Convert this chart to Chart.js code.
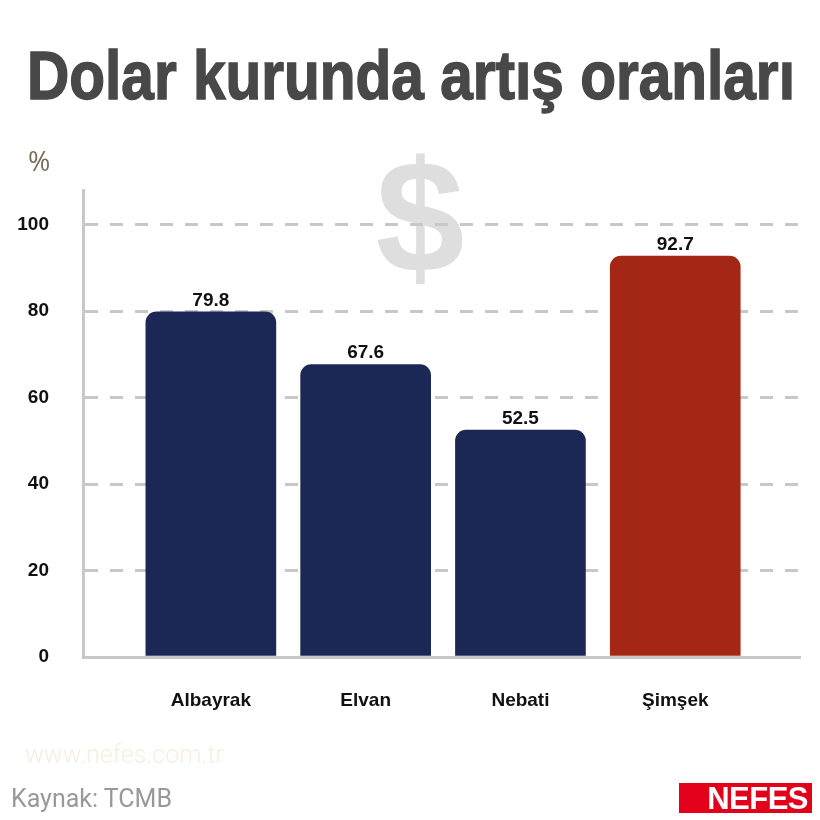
<!DOCTYPE html>
<html>
<head>
<meta charset="utf-8">
<script src="https://cdn.jsdelivr.net/npm/chart.js@4.4.1/dist/chart.umd.min.js"></script>
<style>
  html, body { margin: 0; padding: 0; background: #fff; }
  #wrap { position: relative; width: 820px; height: 820px; overflow: hidden; }
  #chart { position: absolute; left: 0; top: 0; }
  .title { position: absolute; left: 27px; top: 36px; font-family: "Liberation Sans", sans-serif; font-weight: bold; font-size: 69px; line-height: 80px; color: #484848; -webkit-text-stroke: 1.5px #484848; white-space: nowrap; transform-origin: 0 0; }
  .unit { position: absolute; left: 28px; top: 142px; font-family: "Open Sans", sans-serif; font-size: 27px; color: #7a6a58; }
  .web { position: absolute; left: 25px; top: 740px; font-family: "Roboto", sans-serif; font-weight: 300; font-size: 25px; color: #f4efdf; }
  .src { position: absolute; left: 11px; top: 784px; font-family: "Roboto", sans-serif; font-size: 25px; color: #999; }
  .logo { position: absolute; left: 679px; top: 783px; width: 133px; height: 30px; background: #e3001b; color: #fff; font-family: "Liberation Sans", sans-serif; font-weight: bold; font-size: 31px; line-height: 31px; text-align: right; padding-right: 4px; box-sizing: border-box; letter-spacing: -0.5px; }
</style>
</head>
<body>
<div id="wrap">
  <canvas id="chart" width="820" height="820"></canvas>
  <div class="title" id="title">Dolar kurunda artış oranları</div>
  <div class="unit">%</div>
  <div class="web">www.nefes.com.tr</div>
  <div class="src">Kaynak: TCMB</div>
  <div class="logo">NEFES</div>
</div>
<script>
const categories = ['Albayrak', 'Elvan', 'Nebati', 'Şimşek'];
const rates = [79.8, 67.6, 52.5, 92.7];
const barColors = ['#1b2754', '#1b2754', '#1b2754', '#a42615'];
const yTicks = [0, 20, 40, 60, 80, 100];

const labelFont = '"Liberation Sans", sans-serif';

// squeeze the title to the condensed width of the original
const titleEl = document.getElementById('title');
titleEl.style.transform = 'scaleX(' + (768 / titleEl.offsetWidth) + ')';

// big faded dollar sign behind the grid
const dollarPlugin = {
  id: 'dollar',
  beforeDraw(chart) {
    const ctx = chart.ctx;
    ctx.save();
    ctx.fillStyle = '#dedede';
    ctx.font = 'bold 160px "Liberation Sans", sans-serif';
    ctx.textAlign = 'center';
    ctx.textBaseline = 'alphabetic';
    ctx.fillText('$', 420, 272);
    ctx.restore();
  }
};

// value labels on top of bars
const valuePlugin = {
  id: 'values',
  afterDatasetsDraw(chart) {
    const ctx = chart.ctx;
    const meta = chart.getDatasetMeta(0);
    ctx.save();
    ctx.fillStyle = '#111';
    ctx.font = 'bold 19px ' + labelFont;
    ctx.textAlign = 'center';
    ctx.textBaseline = 'bottom';
    meta.data.forEach((bar, i) => {
      ctx.fillText(rates[i].toFixed(1), bar.x, bar.y - 2);
    });
    ctx.restore();
  }
};

new Chart(document.getElementById('chart').getContext('2d'), {
  type: 'bar',
  data: {
    datasets: [{
      data: rates.map((v, i) => ({ x: i, y: v })),
      backgroundColor: barColors,
      borderRadius: { topLeft: 11, topRight: 11 },
      borderSkipped: 'start',
      barThickness: 130
    }]
  },
  options: {
    responsive: false,
    animation: false,
    layout: { padding: { top: 190, right: 20, left: 0, bottom: 0 } },
    plugins: { legend: { display: false }, tooltip: { enabled: false } },
    scales: {
      x: {
        type: 'linear',
        offset: false,
        min: -0.826,
        max: 3.806,
        afterFit(scale) { scale.height = 163; },
        afterBuildTicks(scale) {
          scale.ticks = categories.map((c, i) => ({ value: i }));
        },
        grid: { display: false, drawTicks: false, offset: false },
        border: { display: true, color: '#c8c8c8', width: 3 },
        ticks: {
          padding: 32,
          color: '#111',
          font: { family: labelFont, weight: 'bold', size: 19 },
          callback: (v) => categories[v] ?? ''
        }
      },
      y: {
        min: 0,
        max: 108,
        afterFit(scale) { scale.width = 83; },
        afterBuildTicks(scale) {
          scale.ticks = yTicks.map(v => ({ value: v }));
        },
        grid: {
          drawTicks: false,
          lineWidth: 3,
          color: (c) => c.tick && c.tick.value === 0 ? 'rgba(0,0,0,0)' : '#c8c8c8'
        },
        border: { display: true, color: '#c8c8c8', width: 3, dash: [13, 12] },
        ticks: {
          padding: 34,
          color: '#111',
          font: { family: labelFont, weight: 'bold', size: 19 }
        }
      }
    }
  },
  plugins: [dollarPlugin, valuePlugin]
});
</script>
</body>
</html>
